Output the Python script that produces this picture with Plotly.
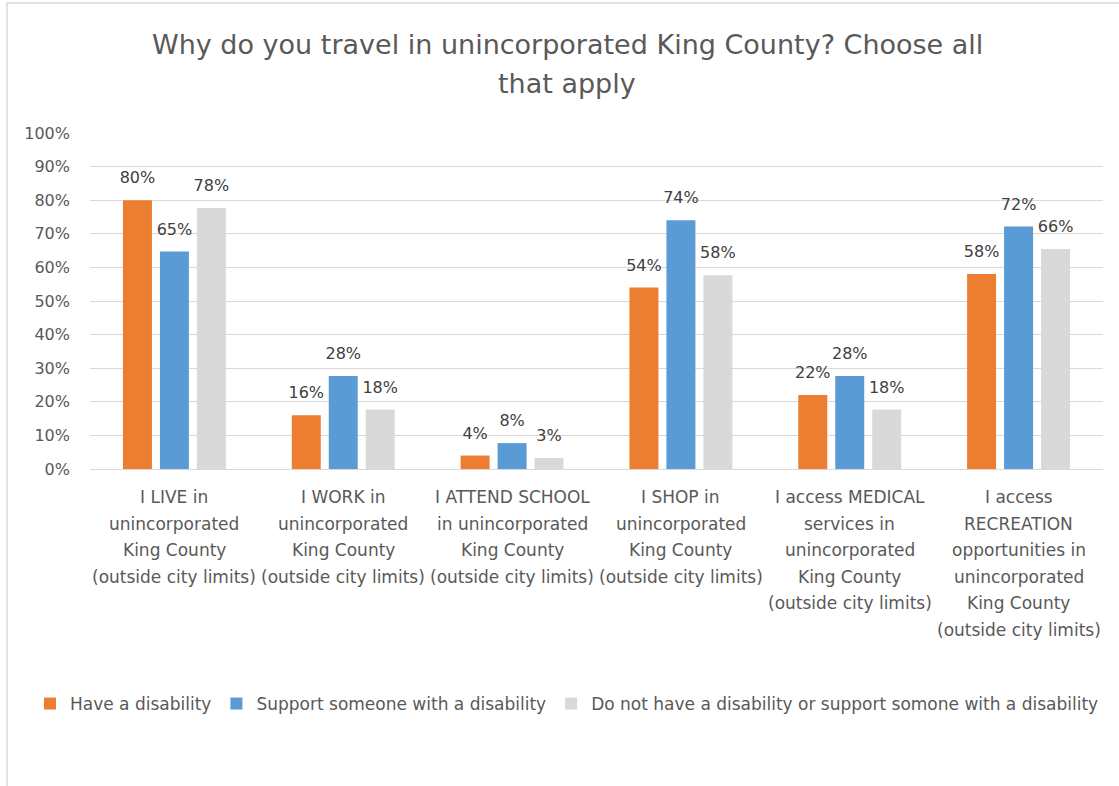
import plotly.graph_objects as go

categories = [
    "I LIVE in\nunincorporated\nKing County\n(outside city limits)",
    "I WORK in\nunincorporated\nKing County\n(outside city limits)",
    "I ATTEND SCHOOL\nin unincorporated\nKing County\n(outside city limits)",
    "I SHOP in\nunincorporated\nKing County\n(outside city limits)",
    "I access MEDICAL\nservices in\nunincorporated\nKing County\n(outside city limits)",
    "I access\nRECREATION\nopportunities in\nunincorporated\nKing County\n(outside city limits)",
]
cat_keys = ["LIVE", "WORK", "SCHOOL", "SHOP", "MEDICAL", "RECREATION"]

have_disability = [0.80, 0.16, 0.04, 0.54, 0.22, 0.58]
support_someone = [0.647, 0.277, 0.077, 0.74, 0.277, 0.722]
neither = [0.777, 0.177, 0.033, 0.577, 0.177, 0.655]

series_names = [
    "Have a disability",
    "Support someone with a disability",
    "Do not have a disability or support somone with a disability",
]
colors = ["#ED7D31", "#5B9BD5", "#D9D9D9"]
title_lines = ["Why do you travel in unincorporated King County? Choose all", "that apply"]

FONT = "DejaVu Sans, sans-serif"

# plot-area pixel geometry (window pixels; body margin removed below)
W, H = 1119, 786
L, R, T, B = 90, 16, 133, 317
PW, PH = W - L - R, H - T - B


def px_x(x):
    return (x - L) / PW


def px_y(y):
    return (H - B - y) / PH


fig = go.Figure()
for i, (name, vals, col) in enumerate(zip(series_names, [have_disability, support_someone, neither], colors)):
    fig.add_trace(go.Bar(
        x=cat_keys, y=vals, name=name, offsetgroup=str(i),
        marker=dict(color=col, line=dict(width=0)),
        hoverinfo="skip",
    ))
for i, vals in enumerate([have_disability, support_someone, neither]):
    fig.add_trace(go.Scatter(
        x=cat_keys, y=vals, mode="markers+text", offsetgroup=str(i),
        texttemplate="%{y:.0%}", textposition="top center",
        textfont=dict(family=FONT, size=16, color="#404040"),
        marker=dict(size=19, color="rgba(0,0,0,0)"),
        showlegend=False, cliponaxis=False, hoverinfo="skip",
    ))

annotations = []
for key, label in zip(cat_keys, categories):
    for i, line in enumerate(label.split("\n")):
        annotations.append(dict(
            x=key, xref="x", y=0, yref="paper", yanchor="middle",
            yshift=-(28 + i * 26.6), text=line, showarrow=False,
            font=dict(family=FONT, size=17, color="#595959"),
        ))

for ypix, line in zip([44, 83], title_lines):
    annotations.append(dict(
        x=px_x(567), xref="paper", y=px_y(ypix), yref="paper", yanchor="middle",
        text=line, showarrow=False,
        font=dict(family=FONT, size=27, color="#595959"),
    ))

fig.update_layout(
    width=W, height=H,
    margin=dict(l=L, r=R, t=T, b=B),
    paper_bgcolor="white", plot_bgcolor="white",
    barmode="group", bargap=0.343, bargroupgap=0.216,
    scattermode="group", scattergap=0.343,
    font=dict(family=FONT, size=17, color="#595959"),
    showlegend=True,
    legend=dict(
        orientation="h", x=px_x(30), xanchor="left", y=px_y(704), yanchor="middle",
        font=dict(family=FONT, size=17, color="#595959"),
        tracegroupgap=0, itemwidth=30,
    ),
    annotations=annotations,
    shapes=[dict(
        type="rect", xref="paper", yref="paper",
        x0=px_x(7), x1=px_x(1140), y0=px_y(800), y1=px_y(3),
        line=dict(color="#D9D9D9", width=1.5), fillcolor="rgba(0,0,0,0)", layer="below",
    )],
)
fig.update_yaxes(
    range=[0, 1], tickformat=".0%", dtick=0.1,
    showgrid=True, gridcolor="#D9D9D9", gridwidth=1,
    zeroline=False, showline=False,
    tickfont=dict(family=FONT, size=16, color="#595959"),
    ticklabelstandoff=19,
)
fig.update_xaxes(
    showticklabels=False, showline=True, linecolor="#D9D9D9", linewidth=1,
    showgrid=False,
)

fig.write_html(
    "out.html",
    config={"displayModeBar": False},
    post_script="document.body.style.margin='0';",
)
